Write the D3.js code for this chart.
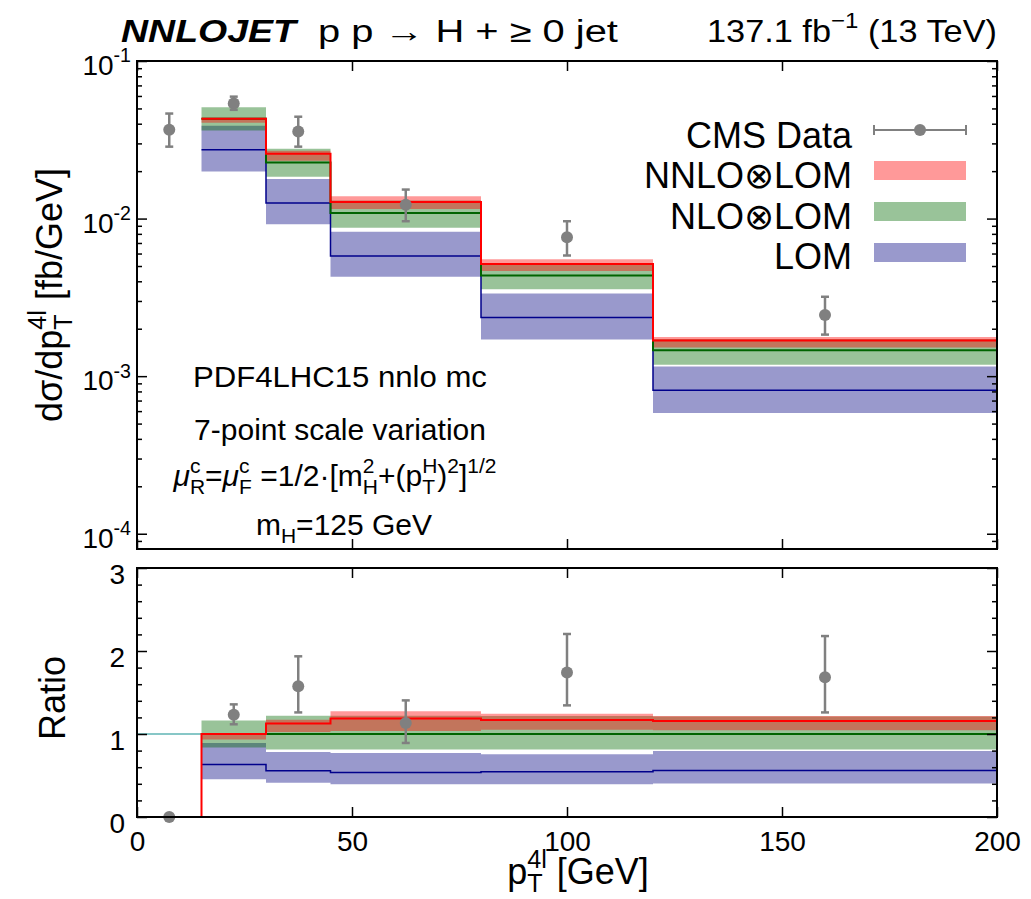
<!DOCTYPE html>
<html>
<head>
<meta charset="UTF-8">
<title>NNLOJET H pT4l</title>
<script src="https://d3js.org/d3.v7.min.js"></script>
<style>
  body { margin: 0; background: #fff; }
  svg { display: block; font-family: "Liberation Sans", Arial, sans-serif; }
  text { white-space: pre; }
</style>
</head>
<body>
<svg width="1031" height="899"></svg>
<script>
// bins in pT (GeV)
const binEdges = [0, 15, 30, 45, 80, 120, 200];

// CMS data
const dataX  = [7.5, 22.5, 37.5, 62.5, 100, 160];
const dataY  = [0.0366, 0.0537, 0.0357, 0.01222, 0.00762, 0.002444];
const dataLo = [0.0286, 0.0490, 0.0286, 0.00962, 0.00583, 0.001835];
const dataHi = [0.0464, 0.0594, 0.0443, 0.01528, 0.00962, 0.00319];

// theory, fb/GeV (first bin empty)
const nnloC  = [null, 0.0430, 0.0258, 0.01276, 0.00514, 0.001683];
const nnloLo = [null, 0.0405, 0.0233, 0.0115,  0.00465, 0.00152];
const nnloHi = [null, 0.0437, 0.0269, 0.01384, 0.00551, 0.001774];
const nloC   = [null, 0.0430, 0.0227, 0.01084, 0.00436, 0.001462];
const nloLo  = [null, 0.0362, 0.01845, 0.00873, 0.00356, 0.00118];
const nloHi  = [null, 0.0509, 0.02773, 0.0130, 0.00512, 0.00172];
const loC    = [null, 0.02735, 0.01256, 0.00578, 0.00236, 0.000815];
const loLo   = [null, 0.0199, 0.0092, 0.00428, 0.00171, 0.000583];
const loHi   = [null, 0.0388, 0.01783, 0.00824, 0.00334, 0.001153];

// ratio panel
const rDataY  = [0, 1.233, 1.576, 1.132, 1.741, 1.684];
const rDataLo = [null, 1.117, 1.26, 0.892, 1.345, 1.26];
const rDataHi = [null, 1.357, 1.936, 1.405, 2.205, 2.18];
const rNnloC  = [0, 1.0, 1.128, 1.188, 1.168, 1.156];
const rNnloLo = [null, 0.933, 1.024, 1.036, 1.052, 1.044];
const rNnloHi = [null, 1.005, 1.173, 1.273, 1.245, 1.216];
const rNloC   = [null, 1, 1, 1, 1, 1];
const rNloLo  = [null, 0.837, 0.813, 0.813, 0.813, 0.813];
const rNloHi  = [null, 1.164, 1.221, 1.221, 1.216, 1.21];
const rLoC    = [null, 0.633, 0.556, 0.536, 0.544, 0.56];
const rLoLo   = [null, 0.456, 0.412, 0.396, 0.396, 0.404];
const rLoHi   = [null, 0.892, 0.784, 0.772, 0.756, 0.796];

const xTicks = [0, 50, 100, 150, 200];
const yTopTicks = [1e-1, 1e-2, 1e-3, 1e-4];
const yTopTickLabels = ["-1", "-2", "-3", "-4"];
const yBotTicks = [0, 1, 2, 3];

const legendNames = ["CMS Data", "NNLO⊗LOM", "NLO⊗LOM", "LOM"];

const svg = d3.select("svg");

const L = 137, R = 997;
const x = d3.scaleLinear().domain([0, 200]).range([L, R]);
const yTop = d3.scaleLog().domain([8e-5, 0.1]).range([549, 61]);
const yBot = d3.scaleLinear().domain([0, 3]).range([817, 568]);

const col = {
  nnloBand: "rgba(255,0,0,0.4)",
  nloBand: "rgba(0,105,0,0.4)",
  loBand: "rgba(0,0,128,0.4)",
  nnloLine: "#ff0000",
  nloLine: "#006400",
  loLine: "#00008b",
  data: "#808080"
};

// step points: one per filled bin plus the closing edge
function steps(vals) {
  const pts = [];
  let last = null;
  vals.forEach((v, i) => {
    if (v == null) return;
    pts.push([binEdges[i], v]);
    last = [binEdges[i + 1], v];
  });
  if (last) pts.push(last);
  return pts;
}

function bandPts(lo, hi) {
  const pts = [];
  let last = null;
  lo.forEach((v, i) => {
    if (v == null) return;
    pts.push({ x: binEdges[i], lo: v, hi: hi[i] });
    last = { x: binEdges[i + 1], lo: v, hi: hi[i] };
  });
  if (last) pts.push(last);
  return pts;
}

// text with sub/superscripts, laid out by measuring each piece
function rich(parent, parts, o) {
  const g = parent.append("g")
    .attr("transform", `translate(${o.x},${o.y})` + (o.rotate ? ` rotate(${o.rotate})` : ""));
  const t = g.append("text").attr("font-size", o.size).attr("fill", "#000");
  if (o.weight) t.attr("font-weight", o.weight);
  if (o.style) t.attr("font-style", o.style);
  let cursor = 0, prevStart = 0, prevW = 0;
  parts.forEach(p => {
    const s = p.s || 1;
    const ts = t.append("tspan").text(p.t)
      .attr("font-size", o.size * s)
      .attr("y", (p.dy || 0) * o.size);
    if (p.italic) ts.attr("font-style", "italic");
    const start = p.stack ? prevStart : cursor;
    ts.attr("x", start);
    const w = ts.node().getComputedTextLength();
    if (p.stack) {
      cursor = prevStart + Math.max(prevW, w);
    } else {
      prevStart = start; prevW = w; cursor = start + w;
    }
  });
  // optional horizontal stretch to a target width
  const sx = o.w ? o.w / cursor : 1;
  const full = cursor * sx;
  const shift = o.anchor === "end" ? -full : o.anchor === "middle" ? -full / 2 : 0;
  t.attr("transform", `translate(${shift},0) scale(${sx},1)`);
  return g;
}
const sub = s => ({ t: s, s: 0.7, dy: 0.28 });
const sup = s => ({ t: s, s: 0.7, dy: -0.45 });
const supS = s => ({ t: s, s: 0.7, dy: -0.45, stack: true });

function drawPanel(y, d) {
  const g = svg.append("g");
  const area = d3.area().curve(d3.curveStepAfter)
    .x(p => x(p.x)).y0(p => y(p.lo)).y1(p => y(p.hi));
  const line = d3.line().curve(d3.curveStepAfter)
    .x(p => x(p[0])).y(p => y(p[1]));

  if (d.refLine) {
    g.append("line")
      .attr("x1", x(0)).attr("x2", x(200))
      .attr("y1", y(1)).attr("y2", y(1))
      .attr("stroke", "#5fb5b5").attr("stroke-width", 1.6);
  }

  g.append("path").datum(bandPts(d.loLo, d.loHi)).attr("d", area).attr("fill", col.loBand);
  g.append("path").datum(bandPts(d.nloLo, d.nloHi)).attr("d", area).attr("fill", col.nloBand);
  g.append("path").datum(bandPts(d.nnloLo, d.nnloHi)).attr("d", area).attr("fill", col.nnloBand);

  g.append("path").datum(steps(d.loC)).attr("d", line)
    .attr("fill", "none").attr("stroke", col.loLine).attr("stroke-width", 1.5);
  g.append("path").datum(steps(d.nloC)).attr("d", line)
    .attr("fill", "none").attr("stroke", col.nloLine).attr("stroke-width", 2);
  g.append("path").datum(steps(d.nnloC)).attr("d", line)
    .attr("fill", "none").attr("stroke", col.nnloLine).attr("stroke-width", 2);

  // data points
  const pts = dataX.map((xv, i) => ({ x: xv, v: d.dy[i], lo: d.dlo[i], hi: d.dhi[i] }));
  const pg = g.append("g").attr("stroke", col.data).attr("stroke-width", 2.5);
  pts.filter(p => p.lo != null).forEach(p => {
    pg.append("line").attr("x1", x(p.x)).attr("x2", x(p.x)).attr("y1", y(p.lo)).attr("y2", y(p.hi));
    pg.append("line").attr("x1", x(p.x) - 4).attr("x2", x(p.x) + 4).attr("y1", y(p.lo)).attr("y2", y(p.lo));
    pg.append("line").attr("x1", x(p.x) - 4).attr("x2", x(p.x) + 4).attr("y1", y(p.hi)).attr("y2", y(p.hi));
  });
  g.selectAll("circle.pt").data(pts).join("circle")
    .attr("class", "pt")
    .attr("cx", p => x(p.x)).attr("cy", p => y(p.v)).attr("r", 6)
    .attr("fill", col.data);
}

drawPanel(yTop, {
  loLo, loHi, nloLo, nloHi, nnloLo, nnloHi, loC, nloC, nnloC,
  dy: dataY, dlo: dataLo, dhi: dataHi
});
drawPanel(yBot, {
  refLine: true,
  loLo: rLoLo, loHi: rLoHi, nloLo: rNloLo, nloHi: rNloHi, nnloLo: rNnloLo, nnloHi: rNnloHi,
  loC: rLoC, nloC: rNloC, nnloC: rNnloC,
  dy: rDataY, dlo: rDataLo, dhi: rDataHi
});

// ---- axes / ticks ----
function styleAxis(g) {
  g.select(".domain").remove();
  g.selectAll(".tick line").attr("stroke", "#000").attr("stroke-width", 1.5);
  g.selectAll("text").attr("font-size", 28).attr("fill", "#000")
    .attr("font-family", "'Liberation Sans', Arial, sans-serif");
}

// upper panel
const topMinor = [];
[-5, -4, -3, -2].forEach(e => {
  for (let k = 2; k <= 9; k++) {
    const v = k * Math.pow(10, e);
    if (v > 8e-5 && v < 0.1) topMinor.push(v);
  }
});
svg.append("g").attr("transform", `translate(${L},0)`)
  .call(d3.axisLeft(yTop).tickValues(yTopTicks).tickSize(-10).tickFormat("")).call(styleAxis);
svg.append("g").attr("transform", `translate(${L},0)`)
  .call(d3.axisLeft(yTop).tickValues(topMinor).tickSize(-5).tickFormat("")).call(styleAxis);
svg.append("g").attr("transform", `translate(${R},0)`)
  .call(d3.axisRight(yTop).tickValues(yTopTicks).tickSize(-10).tickFormat("")).call(styleAxis);
svg.append("g").attr("transform", `translate(${R},0)`)
  .call(d3.axisRight(yTop).tickValues(topMinor).tickSize(-5).tickFormat("")).call(styleAxis);
svg.append("g").attr("transform", "translate(0,549)")
  .call(d3.axisBottom(x).tickValues(xTicks).tickSize(-10).tickFormat("")).call(styleAxis);
svg.append("g").attr("transform", "translate(0,61)")
  .call(d3.axisTop(x).tickValues(xTicks).tickSize(-10).tickFormat("")).call(styleAxis);

yTopTicks.forEach((v, i) => {
  rich(svg, [{ t: "10" }, sup(yTopTickLabels[i])],
    { x: 131, y: yTop(v) + 14, size: 28, anchor: "end" });
});

// lower panel
const botMinor = d3.range(0, 3.001, 0.2).filter(v => Math.abs(v - Math.round(v)) > 0.01);
svg.append("g").attr("transform", `translate(${L},0)`)
  .call(d3.axisLeft(yBot).tickValues(yBotTicks).tickSize(-10).tickPadding(12).tickFormat(d3.format("d")))
  .call(styleAxis)
  .call(g => g.selectAll("text").attr("dy", "0.55em"));
svg.append("g").attr("transform", `translate(${L},0)`)
  .call(d3.axisLeft(yBot).tickValues(botMinor).tickSize(-5).tickFormat("")).call(styleAxis);
svg.append("g").attr("transform", `translate(${R},0)`)
  .call(d3.axisRight(yBot).tickValues(yBotTicks).tickSize(-10).tickFormat("")).call(styleAxis);
svg.append("g").attr("transform", `translate(${R},0)`)
  .call(d3.axisRight(yBot).tickValues(botMinor).tickSize(-5).tickFormat("")).call(styleAxis);
svg.append("g").attr("transform", "translate(0,817)")
  .call(d3.axisBottom(x).tickValues(xTicks).tickSize(-10).tickPadding(14).tickFormat(d3.format("d")))
  .call(styleAxis);
svg.append("g").attr("transform", "translate(0,568)")
  .call(d3.axisTop(x).tickValues(xTicks).tickSize(-10).tickFormat("")).call(styleAxis);

// frames
svg.append("rect").attr("x", L).attr("y", 61).attr("width", R - L).attr("height", 549 - 61)
  .attr("fill", "none").attr("stroke", "#000").attr("stroke-width", 2);
svg.append("rect").attr("x", L).attr("y", 568).attr("width", R - L).attr("height", 817 - 568)
  .attr("fill", "none").attr("stroke", "#000").attr("stroke-width", 2);

// ---- axis titles ----
rich(svg, [{ t: "dσ/dp" }, sub("T"), supS("4l"), { t: " [fb/GeV]" }],
  { x: 62, y: 295, size: 36, anchor: "middle", rotate: -90 });
rich(svg, [{ t: "Ratio" }], { x: 65, y: 698, size: 36, anchor: "middle", rotate: -90 });
rich(svg, [{ t: "p" }, { t: "T", s: 0.7, dy: 0.22 }, supS("4l"), { t: " [GeV]" }],
  { x: 578, y: 884, size: 36, anchor: "middle" });

// ---- title ----
rich(svg, [{ t: "NNLOJET" }], { x: 121, y: 42, size: 31, weight: "bold", style: "italic", w: 175 });
rich(svg, [{ t: "p p → H + ≥ 0 jet" }], { x: 318, y: 42, size: 31, w: 300 });
rich(svg, [{ t: "137.1 fb" }, sup("−1"), { t: " (13 TeV)" }], { x: 997, y: 42, size: 31, anchor: "end", w: 290 });

// ---- annotation ----
rich(svg, [{ t: "PDF4LHC15 nnlo mc" }], { x: 340, y: 387, size: 30, anchor: "middle", w: 294 });
rich(svg, [{ t: "7-point scale variation" }], { x: 340, y: 440, size: 30, anchor: "middle" });
rich(svg, [
  { t: "μ", italic: true }, sub("R"), supS("c"),
  { t: "=" }, { t: "μ", italic: true }, sub("F"), supS("c"),
  { t: " =1/2·[m" }, sub("H"), supS("2"),
  { t: "+(p" }, sub("T"), supS("H"),
  { t: ")" }, sup("2"), { t: "]" }, sup("1/2")
], { x: 335, y: 486, size: 30, anchor: "middle" });
rich(svg, [{ t: "m" }, sub("H"), { t: "=125 GeV" }], { x: 344, y: 535, size: 30, anchor: "middle" });

// ---- legend ----
const legY = [148, 188, 229, 269];
const lx0 = 874, lx1 = 966;
legendNames.forEach((n, i) => {
  rich(svg, [{ t: n }], { x: 852, y: legY[i], size: 36, anchor: "end" });
});
const lg = svg.append("g");
lg.append("line").attr("x1", lx0).attr("x2", lx1).attr("y1", 130).attr("y2", 130)
  .attr("stroke", col.data).attr("stroke-width", 2);
[lx0, lx1].forEach(xx => lg.append("line").attr("x1", xx).attr("x2", xx).attr("y1", 125).attr("y2", 135)
  .attr("stroke", col.data).attr("stroke-width", 2));
lg.append("circle").attr("cx", 920).attr("cy", 130).attr("r", 6).attr("fill", col.data);
[[col.nnloBand, 161], [col.nloBand, 202], [col.loBand, 243]].forEach(([c, yy]) => {
  lg.append("rect").attr("x", lx0).attr("y", yy).attr("width", lx1 - lx0).attr("height", 19).attr("fill", c);
});
</script>
</body>
</html>
